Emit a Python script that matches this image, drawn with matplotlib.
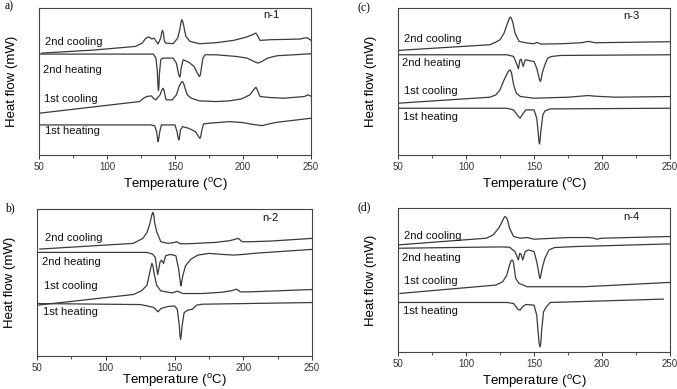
import matplotlib
matplotlib.use('Agg')
import matplotlib.pyplot as plt

plt.rcParams['font.family'] = ['Liberation Sans', 'DejaVu Sans']
plt.rcParams['mathtext.fontset'] = 'custom'
plt.rcParams['mathtext.rm'] = 'Liberation Sans'

LINE = '#3a3a3a'
CURVE_NAMES = ['2nd cooling', '2nd heating', '1st cooling', '1st heating']

# temperatures (C) and heat flow (arb. units), per panel

# --- n-1 (a)
a_cool2_t = [52, 90, 121, 126, 128, 130, 131.5, 133, 134.5, 137.5, 139.5, 140.3, 140.8, 141.5, 142, 143, 148.6, 152, 153.5, 154.5, 155, 155.7, 156.5, 158, 161, 168, 180, 193, 202.6, 207, 209.5, 211, 212.5, 220, 242, 245, 247, 249, 250]
a_cool2_y = [305, 314, 325, 335, 347, 353, 352, 347, 350, 332, 350, 368, 373, 365, 345, 335, 333, 350, 375, 398, 405, 400, 385, 355, 340, 333, 336, 343, 353, 360, 365, 355, 343, 345, 347, 350, 351, 346, 343]
a_heat2_t = [50, 134, 136, 137, 137.5, 137.8, 138.2, 138.5, 139.5, 141, 148.6, 151, 152.5, 153.2, 153.5, 154, 154.5, 156, 160, 164, 166.5, 167.8, 168.5, 169, 170.5, 172, 180, 195, 203, 208, 211, 214, 218, 225, 250]
a_heat2_y = [302, 302, 290, 250, 205, 193, 205, 240, 285, 290, 290, 275, 245, 235, 233, 240, 260, 285, 278, 265, 245, 235, 238, 250, 290, 300, 300, 295, 290, 280, 275, 280, 290, 297, 303]
a_cool1_t = [50, 124, 127, 129, 132.7, 134, 136, 139, 140.5, 141.3, 142, 142.8, 143.5, 148, 151, 153, 154.5, 155.5, 156.3, 157, 159, 162, 168, 180, 190, 199, 205, 208, 209.5, 211, 212.5, 220, 230, 245, 248, 250]
a_cool1_y = [125, 160, 170, 175, 177, 170, 165, 180, 196, 200, 192, 175, 165, 165, 180, 205, 217, 220, 215, 205, 180, 170, 162, 160, 162, 168, 180, 196, 203, 190, 175, 172, 170, 175, 180, 176]
a_heat1_t = [50, 132, 135, 136.5, 137.2, 137.6, 138, 138.8, 140, 150, 151.5, 152.4, 152.8, 153.3, 154, 155.5, 160, 165, 167.5, 168.3, 169, 169.5, 171, 175, 190, 200, 205, 210, 214, 218, 225, 250]
a_heat1_y = [90, 90, 88, 70, 48, 40, 48, 70, 90, 90, 70, 50, 45, 52, 75, 85, 80, 70, 54, 50, 56, 70, 93, 95, 100, 97, 93, 90, 88, 92, 98, 110]

# --- n-2 (b)
b_cool2_t = [52, 120, 127, 130, 132, 133.5, 134.2, 135, 135.5, 137, 140, 145, 149, 151.7, 154, 160, 180, 190, 196.6, 199, 205, 220, 250]
b_cool2_y = [320, 337, 352, 370, 395, 422, 430, 420, 400, 372, 342, 337, 339, 342, 336, 336, 340, 345, 352, 342, 342, 344, 352]
b_heat2_t = [50, 130, 134, 136, 137.3, 137.8, 138.3, 139.5, 140.5, 142, 143.5, 147, 151, 153, 154.2, 154.6, 155.2, 156, 158, 162, 167, 175, 185, 193, 200, 210, 250]
b_heat2_y = [310, 310, 305, 295, 255, 244, 255, 282, 287, 277, 300, 304, 300, 260, 220, 210, 222, 240, 270, 290, 302, 307, 304, 302, 304, 308, 319]
b_cool1_t = [50, 120, 126, 130, 132.5, 133.5, 134.3, 135, 137, 140, 148, 150, 152, 156, 170, 185, 192, 195, 198, 205, 250]
b_cool1_y = [152, 184, 195, 212, 260, 277, 270, 250, 212, 195, 189, 191, 194, 187, 187, 191, 196, 200, 192, 192, 199]
b_heat1_t = [50, 125, 130, 135, 138, 140, 145, 150, 152, 153.5, 154, 154.4, 154.9, 155.5, 157, 160, 163, 166, 170, 250]
b_heat1_y = [157, 154, 150, 145, 132, 142, 148, 150, 140, 90, 60, 50, 62, 90, 130, 138, 140, 152, 155, 160]

# --- n-3 (c)
c_cool2_t = [50, 117.6, 122, 125, 128, 131, 132, 132.8, 133.6, 134.5, 136, 139, 145, 150, 152, 155, 170, 185, 190, 195, 250]
c_cool2_y = [313, 330, 338, 345, 365, 400, 410, 413, 407, 395, 365, 340, 335, 333, 337, 332, 333, 336, 340, 336, 339]
c_heat2_t = [50, 130, 135, 137.5, 138.5, 139.7, 140.5, 142, 143.5, 147, 150, 152, 154, 154.7, 155.3, 156, 158, 160, 163, 170, 250]
c_heat2_y = [300, 300, 295, 270, 258, 285, 287, 265, 285, 282, 280, 260, 226, 220, 228, 245, 270, 290, 295, 298, 300]
c_cool1_t = [50, 117.6, 122, 125, 128, 131, 132.4, 133.5, 135, 137, 140, 150, 175, 190, 195, 210, 250]
c_cool1_y = [155, 173, 180, 195, 225, 250, 255, 245, 210, 185, 175, 170, 173, 178, 176, 173, 175]
c_heat1_t = [50, 130, 135, 138, 139.7, 141.5, 144, 150, 152, 153, 153.6, 154, 154.4, 155, 156.5, 158, 162, 250]
c_heat1_y = [140, 140, 135, 118, 110, 122, 135, 135, 110, 70, 42, 33, 42, 70, 120, 132, 138, 140]

# --- n-4 (d)
d_cool2_t = [50, 115, 120, 124, 126, 128, 128.7, 129.5, 130.5, 132, 135, 140, 145, 150, 160, 175, 190, 194, 196, 200, 250]
d_cool2_y = [320, 340, 350, 370, 385, 402, 405, 402, 395, 370, 345, 340, 342, 337, 339, 342, 342, 340, 337, 340, 345]
d_heat2_t = [50, 125, 132, 136, 138.5, 139.5, 140.5, 141.7, 143.5, 146, 150, 152, 154, 154.4, 155, 156, 158, 161, 165, 180, 250]
d_heat2_y = [310, 314, 313, 300, 275, 295, 292, 275, 300, 305, 300, 270, 225, 220, 228, 250, 280, 305, 312, 315, 323]
d_cool1_t = [51.5, 122, 127, 130, 132, 133.1, 133.8, 134.5, 135, 136.5, 139, 145, 160, 187, 250]
d_cool1_y = [175, 200, 210, 230, 260, 272, 275, 272, 265, 220, 205, 195, 195, 195, 208]
d_heat1_t = [50, 130, 135, 138, 139.7, 141.5, 144, 150, 152, 153, 153.8, 154.4, 155, 155.5, 157, 159, 162, 245]
d_heat1_y = [148, 148, 145, 128, 125, 135, 142, 140, 110, 60, 25, 15, 25, 60, 120, 135, 148, 158]

panels = [
	# letter, sample, rect, ytop, curves, label positions (t, y), sample tag pos, letter pos (px), xlabel pad
	('a)', 'n-1', [0.0576, 0.6015, 0.4018, 0.378], 440,
	 [(a_cool2_t, a_cool2_y), (a_heat2_t, a_heat2_y), (a_cool1_t, a_cool1_y), (a_heat1_t, a_heat1_y)],
	 [(54.2, 337), (53, 255), (53.7, 167), (54.2, 72)], (215, 420), (5, 6), 3),
	('(c)', 'n-3', [0.5879, 0.6015, 0.4018, 0.378], 440,
	 [(c_cool2_t, c_cool2_y), (c_heat2_t, c_heat2_y), (c_cool1_t, c_cool1_y), (c_heat1_t, c_heat1_y)],
	 [(54.7, 347), (53.2, 275), (54.7, 192), (53.9, 113)], (215.7, 415), (357, 8), 3),
	('b)', 'n-2', [0.0547, 0.0848, 0.4062, 0.378], 440,
	 [(b_cool2_t, b_cool2_y), (b_heat2_t, b_heat2_y), (b_cool1_t, b_cool1_y), (b_heat1_t, b_heat1_y)],
	 [(55.8, 352), (53.4, 282), (55.3, 209), (54.1, 132)], (213.6, 412), (5, 208), -1),
	('(d)', 'n-4', [0.5879, 0.0951, 0.4018, 0.370], 430,
	 [(d_cool2_t, d_cool2_y), (d_heat2_t, d_heat2_y), (d_cool1_t, d_cool1_y), (d_heat1_t, d_heat1_y)],
	 [(54.7, 348), (53.2, 282), (54.7, 212), (53.9, 122)], (215.7, 402), (357, 207), 3),
]

fig = plt.figure(figsize=(6.77, 3.89), dpi=100)

for letter, sample, rect, ytop, curves, label_pos, tag_pos, letter_px, xpad in panels:
	ax = fig.add_axes(rect)
	for (t, y), name, (lx, ly) in zip(curves, CURVE_NAMES, label_pos):
		ax.plot(t, y, color=LINE, lw=0.9)
		ax.text(lx, ly, name, fontsize=8, va='center', ha='left', color='#111111')
	ax.text(tag_pos[0], tag_pos[1], sample, fontsize=8, va='center', ha='left', color='#111111')

	ax.set_xlim(50, 250)
	ax.set_ylim(0, ytop)
	ax.set_xticks([50, 100, 150, 200, 250])
	ax.set_xticks([75, 125, 175, 225], minor=True)
	ax.set_yticks([])
	ax.tick_params(axis='x', which='major', direction='out', length=3, width=0.7, labelsize=7, pad=2, colors='#333333')
	ax.tick_params(axis='x', which='minor', direction='out', length=1.8, width=0.6, colors='#333333')
	for s in ax.spines.values():
		s.set_color('#444444')
		s.set_linewidth(0.8)

	ax.set_xlabel('Temperature ($\\mathregular{^{o}}$C)', fontsize=9.5, labelpad=xpad)
	ax.set_ylabel('Heat flow (mW)', fontsize=9.5, labelpad=15)

	fig.text(letter_px[0] / 677, 1 - letter_px[1] / 389, letter, fontsize=8.5,
		family=['Liberation Serif', 'DejaVu Serif'], va='center', ha='left')

fig.savefig('out.png', dpi=100)
